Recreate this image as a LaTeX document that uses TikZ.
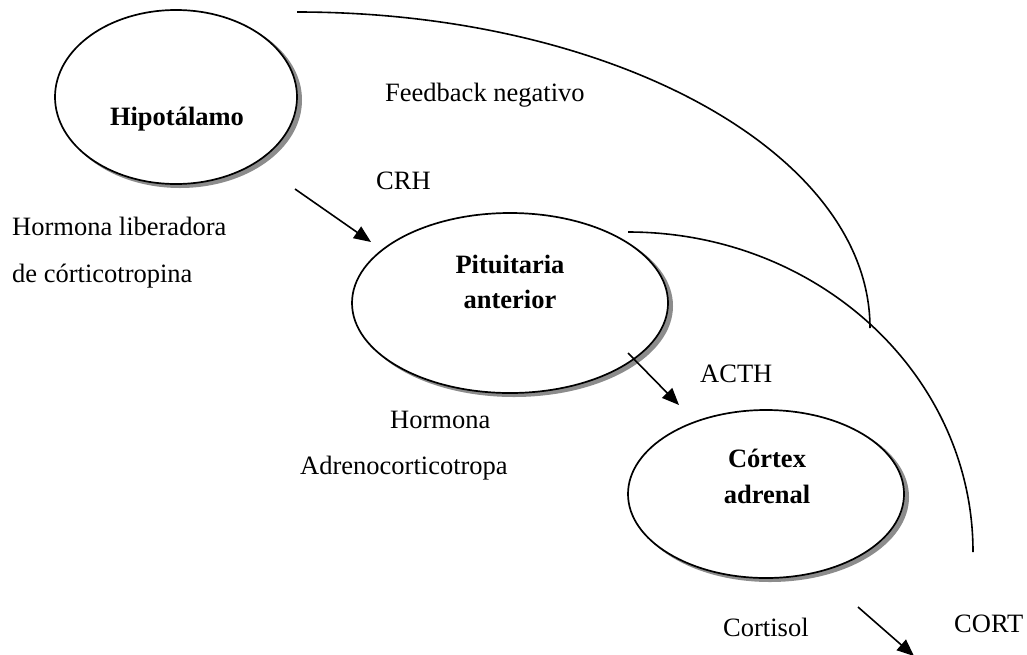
\documentclass[tikz,border=0pt]{standalone}
\usepackage{fontspec}
\setmainfont{Liberation Serif}
\usetikzlibrary{shapes.geometric,arrows.meta}

\tikzset{
  organ/.style={ellipse, draw=black, fill=white, line width=1.7pt, inner sep=0pt},
  organshadow/.style={ellipse, fill=black!45, draw=none, inner sep=0pt},
  lbl/.style={anchor=base west, inner sep=0pt, font=\fontsize{26.5}{32}\selectfont},
  title/.style={anchor=base, inner sep=0pt, font=\fontsize{26.5}{32}\selectfont\bfseries},
  hormone/.style={line width=1.6pt, -{Triangle[length=17pt,width=14pt]}},
  loop/.style={line width=1.6pt},
}

\begin{document}
\begin{tikzpicture}[x=1pt,y=-1pt]
  \useasboundingbox (0,0) rectangle (1027,654);
  \clip (0,0) rectangle (1027,654);

  % glands: grey drop shadow under a white ellipse
  \node[organshadow, minimum width=244pt, minimum height=176pt] at (180,100) {};
  \node[organ, minimum width=242pt, minimum height=174pt] (hipo) at (176,97) {};
  \node[organshadow, minimum width=318pt, minimum height=182pt] at (514,306) {};
  \node[organ, minimum width=316pt, minimum height=180pt] (pit) at (510,303) {};
  \node[organshadow, minimum width=278pt, minimum height=170pt] at (770,497) {};
  \node[organ, minimum width=276pt, minimum height=168pt] (cort) at (766,494) {};

  % gland names
  \node[title] (thipo) at (177,125) {Hipotálamo};
  \node[title] (tpit1) at (510,273) {Pituitaria};
  \node[title] (tpit2) at (510,308) {anterior};
  \node[title] (tcort1) at (767,467) {Córtex};
  \node[title] (tcort2) at (767,503) {adrenal};

  % labels
  \node[lbl] (fb) at (385,101) {Feedback negativo};
  \node[lbl] (crh) at (376,189) {CRH};
  \node[lbl] (hl1) at (12,235) {Hormona liberadora};
  \node[lbl] (hl2) at (12,282) {de córticotropina};
  \node[lbl] (acth) at (700,382) {ACTH};
  \node[lbl] (ha1) at (390,428) {Hormona};
  \node[lbl] (ha2) at (300,474) {Adrenocorticotropa};
  \node[lbl] (cortisol) at (723,636) {Cortisol};
  \node[lbl] (cortlbl) at (954,632) {CORT};

  % hormone arrows
  \coordinate (crhA) at (295,189);
  \coordinate (crhB) at (371,242);
  \coordinate (acthA) at (628,353);
  \coordinate (acthB) at (679,405);
  \coordinate (cortA) at (858,607);
  \coordinate (cortB) at (914,656);
  \draw[hormone] (crhA) -- (crhB);
  \draw[hormone] (acthA) -- (acthB);
  \draw[hormone] (cortA) -- (cortB);

  % negative feedback loops
  \coordinate (fbHipo) at (297,12);
  \coordinate (fbPit) at (628,232);
  \draw[loop] (fbHipo) arc[start angle=-90, end angle=0, x radius=573, y radius=316];
  \draw[loop] (fbPit) arc[start angle=-90, end angle=0, x radius=345, y radius=320];
\end{tikzpicture}
\end{document}
